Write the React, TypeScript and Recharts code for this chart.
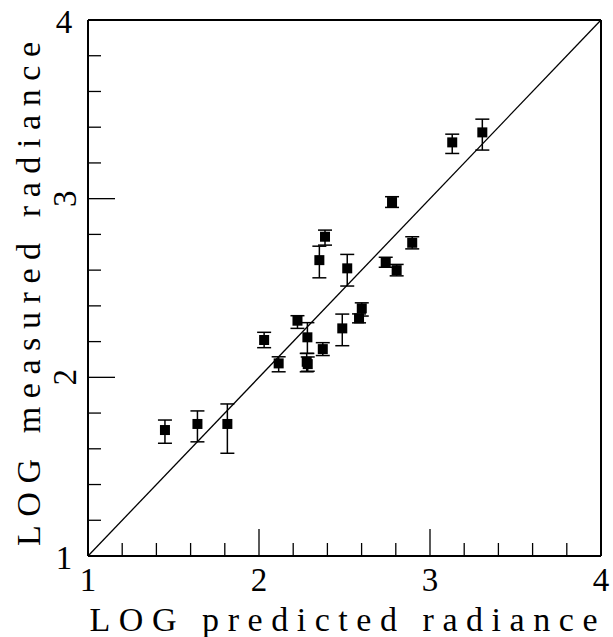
import React from "react";
import {
  ScatterChart,
  Scatter,
  XAxis,
  YAxis,
  ErrorBar,
  ReferenceLine,
  Label,
} from "recharts";

// log predicted vs log measured radiance, with asymmetric error bars
const predicted = [
  1.45, 1.64, 1.815, 2.03, 2.115, 2.225, 2.283, 2.279, 2.285, 2.373, 2.386,
  2.353, 2.487, 2.516, 2.585, 2.601, 2.741, 2.805, 2.778, 2.896, 3.13, 3.306,
];
const measured = [
  1.705, 1.739, 1.739, 2.209, 2.078, 2.317, 2.224, 2.087, 2.074, 2.158, 2.787,
  2.656, 2.274, 2.61, 2.33, 2.386, 2.644, 2.6, 2.981, 2.753, 3.315, 3.371,
];
const errDown = [
  0.074, 0.1, 0.164, 0.043, 0.047, 0.043, 0.09, 0.056, 0.04, 0.036, 0.047,
  0.099, 0.097, 0.099, 0.025, 0.043, 0.028, 0.032, 0.03, 0.034, 0.062, 0.099,
];
const errUp = [
  0.056, 0.073, 0.112, 0.043, 0.037, 0.028, 0.082, 0.047, 0.04, 0.036, 0.037,
  0.078, 0.08, 0.078, 0.025, 0.031, 0.028, 0.032, 0.03, 0.034, 0.046, 0.074,
];

const axisTicks = [
  1, 1.2, 1.4, 1.6, 1.8, 2, 2.2, 2.4, 2.6, 2.8, 3, 3.2, 3.4, 3.6, 3.8, 4,
];
const rotatedYLabels = [2, 3];

const xTitle = "LOG predicted radiance";
const yTitle = "LOG measured radiance";

const INK = "#000";
const FONT = "Liberation Serif, DejaVu Serif, serif";

const data = predicted.map((x, i) => ({
  x,
  y: measured[i],
  err: [errDown[i], errUp[i]],
}));

const tickLen = (v: number) => (Number.isInteger(v) ? 27 : 13);

const BottomTick = (props: any) => {
  const { x, y, payload } = props;
  const v = payload.value;
  return (
    <g>
      <line x1={x} y1={y} x2={x} y2={y - tickLen(v)} stroke={INK} strokeWidth={1.3} />
      {Number.isInteger(v) && (
        <text x={x} y={y + 35} textAnchor="middle" fontSize={33} fontFamily={FONT} fill={INK}>
          {v}
        </text>
      )}
    </g>
  );
};

const TopTick = (props: any) => {
  const { x, y, payload } = props;
  return <line x1={x} y1={y} x2={x} y2={y + tickLen(payload.value)} stroke={INK} strokeWidth={1.3} />;
};

const LeftTick = (props: any) => {
  const { x, y, payload } = props;
  const v = payload.value;
  let label = null;
  if (Number.isInteger(v)) {
    if (rotatedYLabels.includes(v)) {
      const bx = x - 12;
      label = (
        <text
          x={bx}
          y={y}
          transform={`rotate(-90 ${bx} ${y})`}
          textAnchor="middle"
          fontSize={33}
          fontFamily={FONT}
          fill={INK}
        >
          {v}
        </text>
      );
    } else {
      label = (
        <text x={x - 24} y={y + 13} textAnchor="middle" fontSize={33} fontFamily={FONT} fill={INK}>
          {v}
        </text>
      );
    }
  }
  return (
    <g>
      <line x1={x} y1={y} x2={x + tickLen(v)} y2={y} stroke={INK} strokeWidth={1.3} />
      {label}
    </g>
  );
};

const RightTick = (props: any) => {
  const { x, y, payload } = props;
  return <line x1={x} y1={y} x2={x - tickLen(payload.value)} y2={y} stroke={INK} strokeWidth={1.3} />;
};

const Square = (props: any) => {
  const { cx, cy } = props;
  return <rect x={cx - 5} y={cy - 5} width={10} height={10} fill={INK} />;
};

const XTitle = (props: any) => {
  const vb = props.viewBox;
  return (
    <text
      x={vb.x + vb.width / 2 - 1}
      y={vb.y + 75}
      textAnchor="middle"
      fontSize={34}
      fontFamily={FONT}
      fill={INK}
      textLength={508}
      lengthAdjust="spacing"
    >
      {xTitle}
    </text>
  );
};

const YTitle = (props: any) => {
  const vb = props.viewBox;
  const cx = 40;
  const cy = vb.y + vb.height / 2 + 6;
  return (
    <text
      x={cx}
      y={cy}
      transform={`rotate(-90 ${cx} ${cy})`}
      textAnchor="middle"
      fontSize={34}
      fontFamily={FONT}
      fill={INK}
      textLength={504}
      lengthAdjust="spacing"
    >
      {yTitle}
    </text>
  );
};

const axisLine = { stroke: INK, strokeWidth: 2 };

export default function App() {
  return (
    <div style={{ position: "absolute", left: 0, top: 0, background: "#fff" }}>
      <ScatterChart width={613} height={637} margin={{ top: 19, right: 11, bottom: 0, left: 0 }}>
        <XAxis
          dataKey="x"
          type="number"
          domain={[1, 4]}
          ticks={axisTicks}
          interval={0}
          height={81}
          tickSize={0}
          tickMargin={0}
          tickLine={false}
          axisLine={axisLine}
          tick={<BottomTick />}
        >
          <Label content={<XTitle />} />
        </XAxis>
        <XAxis
          xAxisId="top"
          orientation="top"
          type="number"
          domain={[1, 4]}
          ticks={axisTicks}
          interval={0}
          height={1}
          tickSize={0}
          tickMargin={0}
          tickLine={false}
          axisLine={axisLine}
          tick={<TopTick />}
        />
        <YAxis
          dataKey="y"
          type="number"
          domain={[1, 4]}
          ticks={axisTicks}
          interval={0}
          width={88}
          tickSize={0}
          tickMargin={0}
          tickLine={false}
          axisLine={axisLine}
          tick={<LeftTick />}
        >
          <Label content={<YTitle />} />
        </YAxis>
        <YAxis
          yAxisId="right"
          orientation="right"
          type="number"
          domain={[1, 4]}
          ticks={axisTicks}
          interval={0}
          width={1}
          tickSize={0}
          tickMargin={0}
          tickLine={false}
          axisLine={axisLine}
          tick={<RightTick />}
        />
        <ReferenceLine
          segment={[
            { x: 1, y: 1 },
            { x: 4, y: 4 },
          ]}
          stroke={INK}
          strokeWidth={1.3}
        />
        <Scatter data={data} shape={<Square />} isAnimationActive={false}>
          <ErrorBar dataKey="err" direction="y" width={7} stroke={INK} strokeWidth={1.5} />
        </Scatter>
      </ScatterChart>
    </div>
  );
}
